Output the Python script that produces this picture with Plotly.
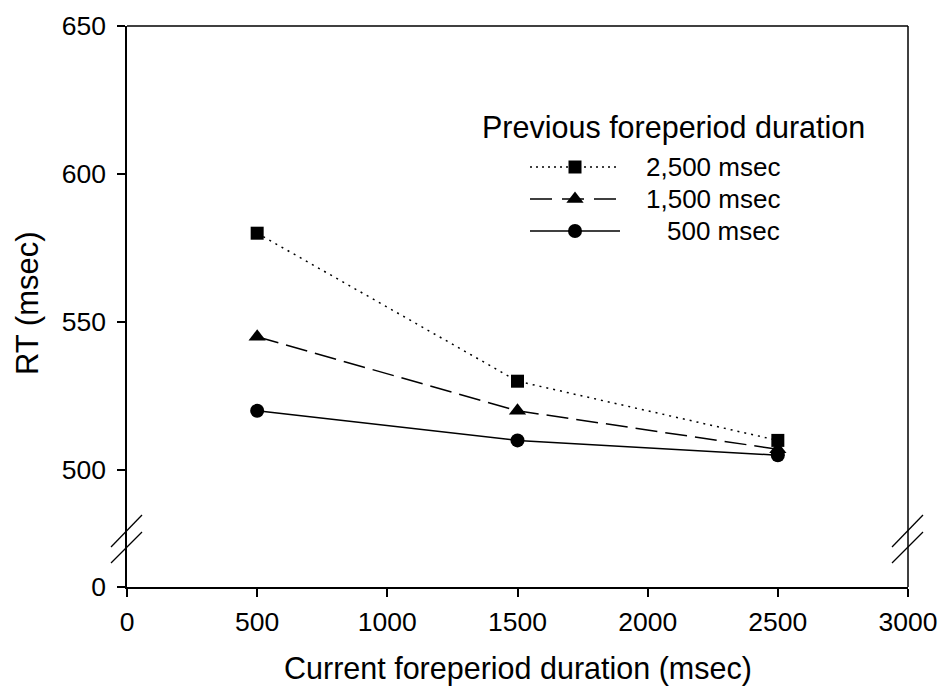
import plotly.graph_objects as go

# ---- data ----
current_fp = [500, 1500, 2500]
series_names = ["2,500 msec", "1,500 msec", "500 msec"]
rt_2500 = [580, 530, 510]
rt_1500 = [545, 520, 507]
rt_500 = [520, 510, 505]
x_ticks = [0, 500, 1000, 1500, 2000, 2500, 3000]
y_ticks_upper = [500, 550, 600, 650]
y_ticks_lower = [0]

# ---- layout geometry (pixels) ----
W, H = 939, 690
L, R, T, B = 127, 31, 26, 103
PW, PH = W - L - R, H - T - B
PX_PER_MS = 2.96          # upper axis scale (px per msec)
BREAK_PX = 539            # pixel row where the axis is broken
FONT = "Liberation Sans, Arial, sans-serif"


def px(xp):
    return (xp - L) / PW


def py(yp):
    return (T + PH - yp) / PH


split = py(BREAK_PX)
upper_lo = 650 - PH * (1 - split) / PX_PER_MS

styles = [
    dict(symbol="square", size=13, dash="2px,5px"),
    dict(symbol="triangle-up", size=15, dash="22px,8px"),
    dict(symbol="circle", size=14, dash="solid"),
]
values = [rt_2500, rt_1500, rt_500]

fig = go.Figure()
# placeholder trace so the lower (0) axis subplot exists
fig.add_trace(go.Scatter(x=[None], y=[None], xaxis="x", yaxis="y",
                         mode="markers", showlegend=False, hoverinfo="skip"))
for name, vals, st in zip(series_names, values, styles):
    fig.add_trace(go.Scatter(
        x=current_fp, y=vals, name=name, mode="lines+markers",
        xaxis="x", yaxis="y2",
        line=dict(color="black", width=1.5, dash=st["dash"]),
        marker=dict(symbol=st["symbol"], size=st["size"], color="black"),
        showlegend=False, cliponaxis=False,
    ))

axis_common = dict(
    showline=True, linecolor="black", linewidth=1.5,
    ticks="outside", ticklen=8, tickwidth=1.5, tickcolor="black",
    showgrid=False, zeroline=False, automargin=False,
    tickfont=dict(family=FONT, size=26.5, color="black"),
)

fig.update_layout(
    width=W, height=H,
    margin=dict(l=L, r=R, t=T, b=B),
    paper_bgcolor="white", plot_bgcolor="rgba(0,0,0,0)",
    xaxis=dict(range=[0, 3000], tickvals=x_ticks, anchor="y", domain=[0, 1],
               ticklabelstandoff=2, **axis_common),
    yaxis=dict(domain=[0, split], range=[0, 100], tickvals=y_ticks_lower,
               anchor="x", ticklabelstandoff=6, **axis_common),
    yaxis2=dict(domain=[split, 1], range=[upper_lo, 650], tickvals=y_ticks_upper,
                anchor="x", ticklabelstandoff=6, **axis_common),
    showlegend=False,
)

shapes = []
# top and right frame lines
shapes.append(dict(type="line", xref="paper", yref="paper", x0=0, x1=1, y0=1, y1=1,
                   line=dict(color="black", width=1.5)))
shapes.append(dict(type="line", xref="paper", yref="paper", x0=1, x1=1, y0=0, y1=1,
                   line=dict(color="black", width=1.5)))
# axis break marks on both sides
for xa in (L, L + PW):
    for y_low, y_high in ((547, 515), (563, 532)):
        shapes.append(dict(type="line", xref="paper", yref="paper",
                           x0=px(xa - 16), y0=py(y_low), x1=px(xa + 15), y1=py(y_high),
                           line=dict(color="black", width=1.3)))

# custom legend
LEG_X0, LEG_X1, LEG_MX = 530, 620, 575
LEG_ROWS = [167, 199, 231]
leg_dash = ["2px,4px", "22px,10px", "solid"]
for yy, d in zip(LEG_ROWS, leg_dash):
    shapes.append(dict(type="line", xref="paper", yref="paper",
                       x0=px(LEG_X0), x1=px(LEG_X1), y0=py(yy), y1=py(yy),
                       line=dict(color="black", width=1.3, dash=d)))
fig.update_layout(shapes=shapes)

for yy, st in zip(LEG_ROWS, styles):
    fig.add_trace(go.Scatter(
        x=[px(LEG_MX)], y=[py(yy)], xaxis="x3", yaxis="y3", mode="markers",
        marker=dict(symbol=st["symbol"], size=st["size"], color="black"),
        showlegend=False, hoverinfo="skip", cliponaxis=False,
    ))
fig.update_layout(
    xaxis3=dict(domain=[0, 1], range=[0, 1], visible=False, anchor="y3"),
    yaxis3=dict(domain=[0, 1], range=[0, 1], visible=False, anchor="x3"),
)

annotations = [
    dict(text="Previous foreperiod duration", xref="paper", yref="paper",
         x=px(480), y=py(128), xanchor="left", yanchor="middle", showarrow=False,
         font=dict(family=FONT, size=30.5, color="black")),
    dict(text="Current foreperiod duration (msec)", xref="paper", yref="paper",
         x=0.5, y=py(668), xanchor="center", yanchor="middle", showarrow=False,
         font=dict(family=FONT, size=30.5, color="black")),
    dict(text="RT (msec)", xref="paper", yref="paper", textangle=-90,
         x=px(27), y=py(303), xanchor="center", yanchor="middle", showarrow=False,
         font=dict(family=FONT, size=31, color="black")),
]
for yy, name in zip(LEG_ROWS, series_names):
    annotations.append(dict(text=name, xref="paper", yref="paper",
                            x=px(782), y=py(yy), xanchor="right", yanchor="middle",
                            showarrow=False,
                            font=dict(family=FONT, size=26, color="black")))
fig.update_layout(annotations=annotations)

fig.write_html("out.html")
